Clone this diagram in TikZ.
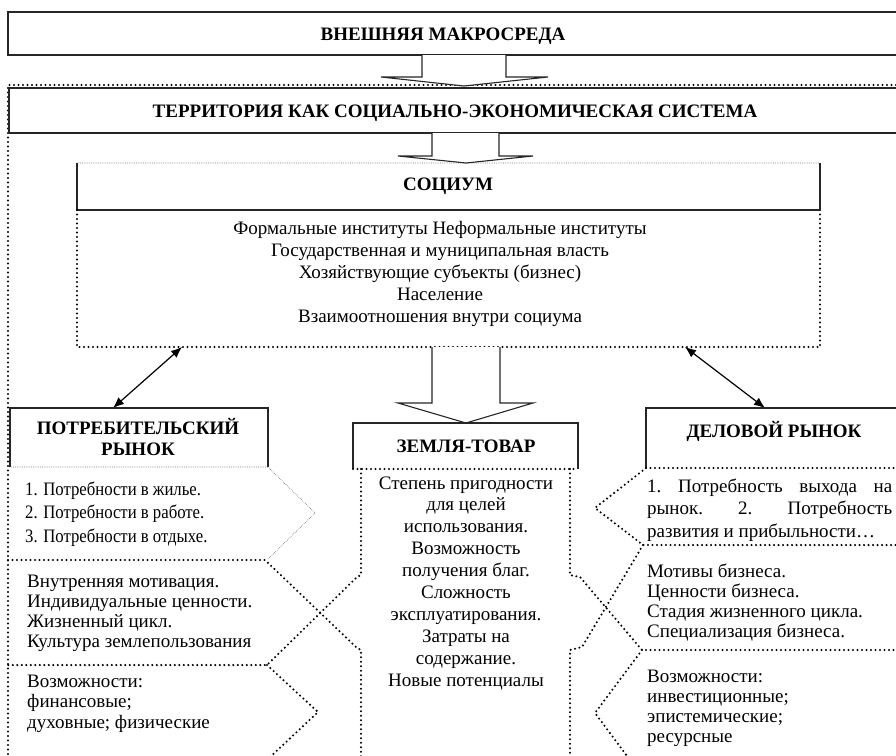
\documentclass[tikz,border=0pt]{standalone}
\usepackage{fontspec}
\setmainfont{Liberation Serif}[BoldFont={Liberation Serif Bold}]
\newfontfamily\condfont[FakeStretch=0.88]{Liberation Serif}
\usetikzlibrary{arrows.meta}
\begin{document}
\begin{tikzpicture}[x=1pt,y=-1pt,
  solidline/.style={line width=1.1pt, draw=black!85},
  thickdot/.style={line width=2.3pt, line cap=round, dash pattern=on 0pt off 4.5pt},
  finedot/.style={line width=0.8pt, line cap=round, dash pattern=on 0pt off 1.8pt, draw=black!70},
  hdr/.style={font=\fontsize{19}{22}\selectfont\bfseries, inner sep=0, anchor=base},
  txt/.style={font=\fontsize{19}{22}\selectfont, inner sep=0},
  ctxt/.style={txt, anchor=base},
  ltxt/.style={txt, anchor=base west},
  blockarrow/.style={line width=1.1pt, fill=white, draw=black!85},
  dblarrow/.style={line width=1.2pt, {Latex[length=11pt,width=9pt]}-{Latex[length=11pt,width=9pt]}}
]
\useasboundingbox (0,0) rectangle (896,755);
\clip (0,0) rectangle (896,755);

% ---------- external macro-environment ----------
\draw[solidline] (8,12) rectangle (905,55);
\node[hdr] (macro) at (443,40) {ВНЕШНЯЯ МАКРОСРЕДА};

% outer dotted frame of the territory system
\draw[thickdot] (905,85) -- (8,85) -- (8,760);

% ---------- territory ----------
\draw[solidline] (9,88) rectangle (905,133);
\node[hdr] (terr) at (455,117) {ТЕРРИТОРИЯ КАК СОЦИАЛЬНО-ЭКОНОМИЧЕСКАЯ СИСТЕМА};

% block arrow 1
\draw[blockarrow] (422,55) -- (422,77) -- (381,77) -- (464,86) -- (548,77) -- (506,77) -- (506,55);
% block arrow 2
\draw[blockarrow] (432,133) -- (432,156) -- (398,156) -- (466,163) -- (533,156) -- (499,156) -- (499,133);

% ---------- society ----------
\draw[finedot] (77,163) -- (820,163);
\draw[solidline] (77,163) -- (77,210) -- (820,210) -- (820,163);
\draw[thickdot] (77,210) -- (77,347) -- (820,347) -- (820,210);
\node[hdr] (soc) at (448,190) {СОЦИУМ};
\foreach \t [count=\i] in {Формальные институты Неформальные институты,
  Государственная и муниципальная власть,
  Хозяйствующие субъекты (бизнес),
  Население,
  Взаимоотношения внутри социума}
  \node[ctxt] (soc-\i) at (440,{234+(\i-1)*22.2}) {\t};

% block arrow 3
\draw[blockarrow] (432,347) -- (432,403) -- (398,403) -- (466,423) -- (533,403) -- (500,403) -- (500,347);

% double arrows
\coordinate (sl) at (182,347);
\coordinate (pl) at (113,408);
\coordinate (sr) at (685,347);
\coordinate (dr) at (765,408);
\draw[dblarrow] (sl) -- (pl);
\draw[dblarrow] (sr) -- (dr);

% ---------- consumer market ----------
\draw[solidline] (10,467) -- (10,408) -- (268,408) -- (268,467);
\draw[finedot] (10,467) -- (268,467);
\node[hdr] (potr1) at (138,434) {ПОТРЕБИТЕЛЬСКИЙ};
\node[hdr] (potr2) at (138,455) {РЫНОК};
% chevron 1
\draw[finedot] (268,467) -- (315,513) -- (267,560);
\foreach \t [count=\i] in {1. Потребности в жилье.,2. Потребности в работе.,3. Потребности в отдыхе.}
  \node[ltxt, font=\fontsize{19}{22}\condfont] (lc1-\i) at (25,{495+(\i-1)*23.5}) {\t};
% chevron 2
\draw[thickdot] (8,560) -- (265,560) -- (357,648) -- (361,650) -- (361,760);
\draw[thickdot] (361,469) -- (361,575) -- (357,577) -- (267,665) -- (8,665);
\foreach \t [count=\i] in {Внутренняя мотивация.,Индивидуальные ценности.,Жизненный цикл.,Культура землепользования}
  \node[ltxt] (lc2-\i) at (27,{587+(\i-1)*20.3}) {\t};
% chevron 3
\draw[thickdot] (267,665) -- (318,712) -- (267,760);
\foreach \t [count=\i] in {Возможности:,финансовые;,духовные; физические}
  \node[ltxt] (lc3-\i) at (27,{687+(\i-1)*20.5}) {\t};

% ---------- land as commodity ----------
\draw[solidline] (353,469) -- (353,423) -- (578,423) -- (578,469);
\draw[thickdot] (353,469) -- (578,469);
\node[hdr] (zem) at (466,452) {ЗЕМЛЯ-ТОВАР};
\foreach \t [count=\i] in {Степень пригодности,для целей,использования.,Возможность,получения благ.,Сложность,эксплуатирования.,Затраты на,содержание.,Новые потенциалы}
  \node[ctxt] (zem-\i) at (466,{489+(\i-1)*21.9}) {\t};

% ---------- business market ----------
\draw[solidline] (646,468) -- (646,408) -- (905,408);
\draw[thickdot] (646,468) -- (905,468);
\node[hdr] (del) at (774,437) {ДЕЛОВОЙ РЫНОК};
% chevron 1
\draw[thickdot] (646,468) -- (595,508) -- (643,545) -- (905,545);
\node[ltxt] (rc1-1) at (647,492) {\hbox to 245pt{1.\hfill Потребность\hfill выхода\hfill на}};
\node[ltxt] (rc1-2) at (647,514.5) {\hbox to 245pt{рынок.\hfill 2.\hfill Потребность}};
\node[ltxt] (rc1-3) at (647,537) {развития и прибыльности…};
% chevron 2
\draw[thickdot] (643,545) -- (582,647) -- (570,650) -- (570,760);
\draw[thickdot] (570,469) -- (570,575) -- (580,577) -- (642,650) -- (905,650);
\foreach \t [count=\i] in {Мотивы бизнеса.,Ценности бизнеса.,Стадия жизненного цикла.,Специализация бизнеса.}
  \node[ltxt] (rc2-\i) at (647,{577+(\i-1)*20.3}) {\t};
% chevron 3
\draw[thickdot] (642,650) -- (595,713) -- (630,760);
\foreach \t [count=\i] in {Возможности:,инвестиционные;,эпистемические;,ресурсные}
  \node[ltxt] (rc3-\i) at (647,{682+(\i-1)*20.3}) {\t};
\end{tikzpicture}
\end{document}
